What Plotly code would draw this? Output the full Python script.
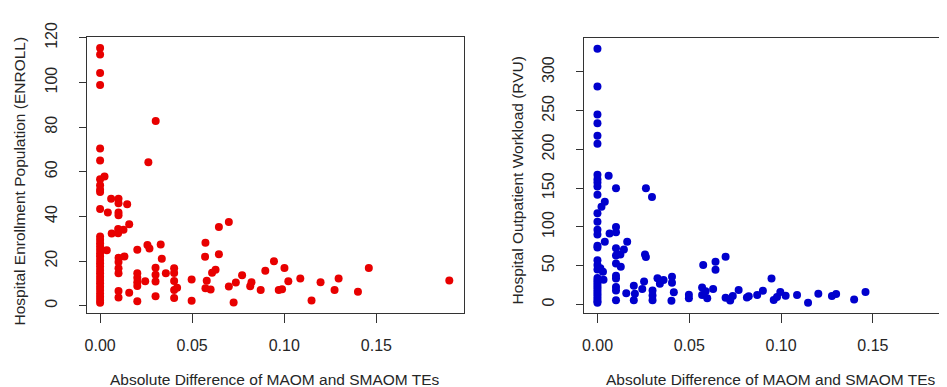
import plotly.graph_objects as go

# ---- data: left panel (ENROLL) ----
enroll_x = [0]*32 + [
    0.0024, 0.0036, 0.0042, 0.006, 0.0063,
    0.010, 0.010, 0.010, 0.010, 0.0098, 0.0098, 0.010, 0.010, 0.010, 0.010, 0.010, 0.010,
    0.0127, 0.0132, 0.0147, 0.0158, 0.0158,
    0.0202, 0.0202, 0.0202, 0.0202, 0.0202, 0.0202,
    0.0245, 0.0262, 0.0257, 0.0268, 0.0302,
    0.0301, 0.0301, 0.0301, 0.0301,
    0.0329, 0.0335, 0.0357,
    0.0402, 0.0402, 0.0402, 0.0402, 0.0402, 0.0418,
    0.0497, 0.0497,
    0.0572, 0.0570, 0.0579, 0.0572, 0.0600, 0.0608, 0.0627,
    0.0645, 0.0645, 0.0699, 0.0699,
    0.0725, 0.0737, 0.0771, 0.0815, 0.0822,
    0.0872, 0.0897, 0.0944, 0.0970, 0.0988, 0.1001, 0.1022, 0.1087, 0.1148,
    0.1197, 0.1273, 0.1295, 0.1400, 0.1459, 0.1896]
enroll_y = [115.4, 112.5, 104.2, 98.9, 70.4, 65.1, 56.6, 54.0, 51.9, 50.9, 43.3,
            31.0, 29.5, 28.0, 26.5, 25.0, 23.5, 22.0, 20.5, 19.0, 17.5, 16.0, 14.5,
            13.0, 11.5, 10.0, 8.5, 7.0, 5.5, 4.0, 2.5, 1.3] + [
    57.9, 24.8, 41.7, 47.9, 32.3,
    47.9, 45.9, 41.7, 40.5, 34.3, 32.4, 21.5, 19.6, 16.8, 14.5, 6.6, 3.7,
    34.0, 22.0, 45.4, 36.5, 5.8,
    25.0, 14.5, 12.5, 10.5, 8.8, 2.0,
    10.9, 64.3, 27.2, 25.6, 82.7,
    17.0, 13.9, 10.8, 4.2,
    27.4, 21.0, 14.5,
    16.8, 14.6, 11.1, 7.0, 3.4, 8.0,
    11.7, 2.2,
    28.2, 21.9, 11.2, 7.8, 7.2, 14.8, 16.1,
    35.3, 23.0, 37.5, 8.6,
    1.4, 10.4, 13.6, 8.7, 10.5,
    7.0, 15.7, 19.9, 7.0, 7.4, 16.9, 10.9, 12.2, 2.3,
    10.5, 7.0, 12.2, 6.2, 16.9, 11.3]

# ---- data: right panel (RVU) ----
rvu_x = [0]*32 + [
    0.0016, 0.0030, 0.0022, 0.0040, 0.0040, 0.0033, 0.0061, 0.0066,
    0.0101, 0.0101, 0.0101, 0.0101, 0.0101, 0.0101, 0.0101, 0.0101, 0.0101, 0.0101, 0.0101,
    0.0125, 0.0127, 0.0144, 0.0162, 0.0157,
    0.0198, 0.0204, 0.0198, 0.0244, 0.0254,
    0.0259, 0.0264, 0.0264, 0.0297,
    0.0300, 0.0300, 0.0300,
    0.0327, 0.0340, 0.0360,
    0.0406, 0.0406, 0.0416, 0.0403,
    0.0498, 0.0498,
    0.0576, 0.0570, 0.0589, 0.0570, 0.0598, 0.0630,
    0.0643, 0.0643, 0.0698,
    0.0698, 0.0723, 0.0737, 0.0769,
    0.0814, 0.0824, 0.0870, 0.0901,
    0.0948, 0.0960, 0.0978, 0.0996, 0.1025,
    0.1087, 0.1147, 0.1203, 0.1277, 0.1300, 0.1398, 0.1460, 0.1893]
rvu_y = [330.1, 281.4, 245.1, 233.9, 217.8, 207.4, 167.4, 161.6, 157.4, 152.1, 141.7,
         117.8, 106.6, 96.3, 90.1, 75.6, 73.5, 57.0, 50.8, 45.0,
         34, 31, 28, 25, 22, 19, 16, 13, 10, 7, 4, 2] + [
    46.7, 42.0, 126.1, 132.6, 80.8, 31.8, 166.1, 91.4,
    150.0, 100.0, 93.0, 72.5, 63.2, 52.9, 37.0, 33.5, 22.5, 17.8, 5.4,
    64.5, 48.7, 71.0, 81.0, 14.5,
    24.0, 13.6, 5.4, 19.8, 29.6,
    64.5, 61.1, 150.0, 138.8,
    17.8, 11.6, 5.4,
    33.9, 26.6, 31.5,
    35.7, 27.8, 15.7, 4.6,
    12.5, 8.0,
    51.0, 21.9, 17.0, 12.0, 7.8, 19.8,
    54.9, 44.6, 61.4,
    8.5, 5.0, 10.8, 18.6,
    9.0, 10.5, 12.2, 17.7,
    33.5, 5.8, 9.5, 16.1, 11.2,
    12.0, 2.1, 13.6, 10.8, 13.3, 6.2, 16.1, 12.0]

x_ticks = [0, 0.05, 0.10, 0.15]
x_tick_text = ["0.00", "0.05", "0.10", "0.15"]
enroll_ticks = [0, 20, 40, 60, 80, 100, 120]
rvu_ticks = [0, 50, 100, 150, 200, 250, 300]
x_title = "Absolute Difference of MAOM and SMAOM TEs"
enroll_title = "Hospital Enrollment Population (ENROLL)"
rvu_title = "Hospital Outpatient Workload (RVU)"

# page has an 8px body margin: size the figure to fit the window and offset positions
OFF = 8
W, H = 947 - OFF, 387 - OFF
FONT = "Liberation Sans, Arial, sans-serif"
TXT = "#262626"
LINE = "#333333"


def px_x(p):
    return (p - OFF) / W


def px_y(p):
    return 1 - (p - OFF) / H


fig = go.Figure()
fig.add_trace(go.Scatter(x=enroll_x, y=enroll_y, mode="markers",
                         marker=dict(color="#E80000", size=8, line=dict(width=0)),
                         xaxis="x", yaxis="y", showlegend=False))
fig.add_trace(go.Scatter(x=rvu_x, y=rvu_y, mode="markers",
                         marker=dict(color="#0000CD", size=8, line=dict(width=0)),
                         xaxis="x2", yaxis="y2", showlegend=False))

ydom_left = [px_y(310), px_y(23.0)]
ydom_right = [px_y(310), px_y(24)]
common_x = dict(tickvals=x_ticks, ticktext=x_tick_text, ticks="outside", ticklen=9,
                tickcolor=LINE, showline=True, linecolor=LINE, linewidth=1, mirror=True,
                showgrid=False, zeroline=False, ticklabelstandoff=9,
                tickfont=dict(family=FONT, size=16, color=TXT))
common_y = dict(ticks="outside", ticklen=7, tickcolor=LINE, showline=True, linecolor=LINE,
                linewidth=1, showgrid=False, zeroline=False, tickangle=-90,
                ticklabelstandoff=15, ticklabeloverflow="allow",
                tickfont=dict(family=FONT, size=16, color=TXT))

fig.update_layout(
    width=W, height=H, margin=dict(l=0, r=0, t=0, b=0),
    paper_bgcolor="white", plot_bgcolor="white",
    xaxis=dict(domain=[px_x(85), px_x(463)], range=[-0.0072, 0.1976], anchor="y", **common_x),
    yaxis=dict(range=[-3.31, 120.2], tickvals=enroll_ticks, anchor="x", mirror=True,
               domain=ydom_left, **common_y),
    xaxis2=dict(domain=[px_x(583), 1.0], range=[-0.00745, 0.19038], anchor="y2", **common_x),
    yaxis2=dict(range=[-11.16, 343.4], tickvals=rvu_ticks, anchor="x2", mirror=False,
                domain=ydom_right, **common_y),
)

ann_font = dict(family=FONT, size=15.5, color=TXT)
fig.add_annotation(text=x_title, xref="paper", yref="paper", x=px_x(274), y=px_y(379),
                   showarrow=False, font=ann_font, xanchor="center", yanchor="middle")
fig.add_annotation(text=x_title, xref="paper", yref="paper", x=px_x(771), y=px_y(379),
                   showarrow=False, font=ann_font, xanchor="center", yanchor="middle")
fig.add_annotation(text=enroll_title, xref="paper", yref="paper", x=px_x(18), y=px_y(172),
                   showarrow=False, font=ann_font, textangle=-90, xanchor="center", yanchor="middle")
fig.add_annotation(text=rvu_title, xref="paper", yref="paper", x=px_x(517), y=px_y(172),
                   showarrow=False, font=ann_font, textangle=-90, xanchor="center", yanchor="middle")

fig.write_html("out.html")
